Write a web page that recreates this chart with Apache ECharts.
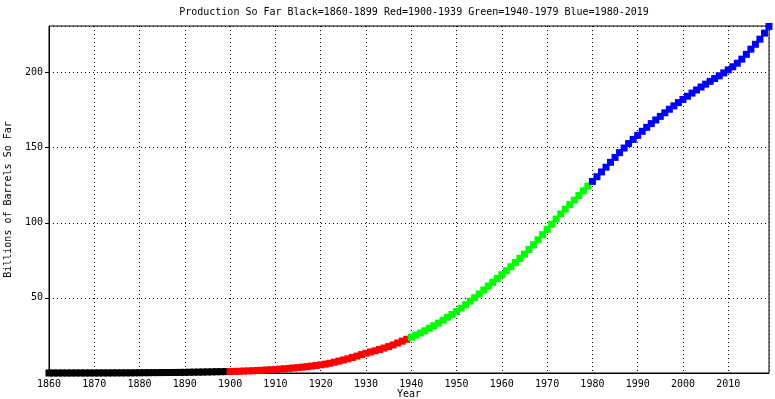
<!DOCTYPE html>
<html>
<head>
<meta charset="utf-8">
<script src="https://cdn.jsdelivr.net/npm/echarts@6/dist/echarts.min.js"></script>
<style>
  html, body { margin: 0; padding: 0; background: #fff; }
  #chart { width: 775px; height: 399px; }
</style>
</head>
<body>
<div id="chart"></div>
<script>
// cumulative production, billions of barrels, one value per year
var blackStart = 1860;
var blackVals = [
  0.00, 0.00, 0.01, 0.01, 0.01, 0.01, 0.02, 0.02, 0.02, 0.03,
  0.03, 0.04, 0.04, 0.05, 0.07, 0.07, 0.08, 0.10, 0.11, 0.13,
  0.16, 0.19, 0.22, 0.24, 0.26, 0.29, 0.31, 0.34, 0.37, 0.40,
  0.45, 0.50, 0.56, 0.60, 0.65, 0.71, 0.77, 0.83, 0.88, 0.94
];
var redStart = 1900;
var redVals = [
  1.00, 1.07, 1.16, 1.26, 1.38, 1.51, 1.64, 1.81, 1.99, 2.17,
  2.38, 2.60, 2.82, 3.07, 3.34, 3.62, 3.92, 4.25, 4.61, 4.99,
  5.43, 5.90, 6.46, 7.19, 7.91, 8.67, 9.44, 10.34, 11.24, 12.25,
  13.15, 14.00, 14.78, 15.69, 16.60, 17.60, 18.69, 19.97, 21.19, 22.45
];
var greenStart = 1940;
var greenVals = [
  23.81, 25.21, 26.60, 28.10, 29.78, 31.49, 33.23, 35.08, 37.10, 38.95,
  40.92, 43.17, 45.46, 47.81, 50.13, 52.61, 55.23, 57.85, 60.30, 62.87,
  65.45, 68.07, 70.74, 73.50, 76.28, 79.13, 82.16, 85.38, 88.70, 92.08,
  95.59, 99.05, 102.50, 105.86, 109.07, 112.12, 115.10, 118.11, 121.29, 124.41
];
var blueStart = 1980;
var blueVals = [
  127.55, 130.68, 133.84, 137.01, 140.26, 143.53, 146.70, 149.75, 152.73, 155.51,
  158.19, 160.90, 163.52, 166.02, 168.46, 170.85, 173.22, 175.57, 177.85, 180.00,
  182.13, 184.25, 186.34, 188.42, 190.40, 192.29, 194.15, 196.00, 197.83, 199.79,
  201.78, 203.85, 206.22, 208.95, 212.15, 215.59, 218.83, 222.24, 226.25, 230.72
];

var font = 'DejaVu Sans Mono';

function pairs(start, vals) {
  return vals.map(function(v, i) { return [start + i, v]; });
}

function makeSeries(name, color, start, vals) {
  return {
    name: name,
    type: 'line',
    data: pairs(start, vals),
    symbol: 'rect',
    symbolSize: 7,
    lineStyle: { color: color, width: 1 },
    itemStyle: { color: color },
    clip: true
  };
}

var chart = echarts.init(document.getElementById('chart'));
var option = {
  animation: false,
  backgroundColor: '#fff',
  title: {
    text: 'Production So Far Black=1860-1899 Red=1900-1939 Green=1940-1979 Blue=1980-2019',
    left: 409,
    top: 2,
    textAlign: 'center',
    textStyle: { fontFamily: font, fontSize: 10, fontWeight: 'normal', color: '#000' }
  },
  grid: {
    left: 49, right: 6, top: 26, bottom: 26,
    outerBoundsMode: 'none',
    containLabel: false,
    show: true, borderColor: '#000', borderWidth: 1
  },
  xAxis: {
    type: 'value',
    min: 1860, max: 2019, interval: 10,
    name: 'Year',
    nameLocation: 'middle',
    nameGap: 16,
    nameMoveOverlap: false,
    nameTextStyle: { fontFamily: font, fontSize: 10, color: '#000', verticalAlign: 'top' },
    axisLine: { lineStyle: { color: '#000', width: 1 } },
    axisTick: { show: false },
    axisLabel: {
      fontFamily: font, fontSize: 10, color: '#000', margin: 6,
      showMaxLabel: false,
      formatter: function(v) { return String(v); }
    },
    splitLine: { show: true, lineStyle: { color: '#000', width: 1, type: [1, 3] } }
  },
  yAxis: {
    type: 'value',
    min: 0, max: 231, interval: 50,
    name: 'Billions of Barrels So Far',
    nameLocation: 'middle',
    nameGap: 36,
    nameMoveOverlap: false,
    nameTextStyle: { fontFamily: font, fontSize: 10, color: '#000' },
    axisLine: { show: true, lineStyle: { color: '#000', width: 1 } },
    axisTick: { show: true, length: 4, lineStyle: { color: '#000' } },
    axisLabel: {
      fontFamily: font, fontSize: 10, color: '#000', margin: 6,
      showMinLabel: false, showMaxLabel: false
    },
    splitLine: { show: true, lineStyle: { color: '#000', width: 1, type: [1, 3] } }
  },
  series: [
    makeSeries('1860-1899', '#000000', blackStart, blackVals),
    makeSeries('1900-1939', '#ff0000', redStart, redVals),
    makeSeries('1940-1979', '#00ff00', greenStart, greenVals),
    makeSeries('1980-2019', '#0000ff', blueStart, blueVals)
  ]
};
chart.setOption(option);
</script>
</body>
</html>
